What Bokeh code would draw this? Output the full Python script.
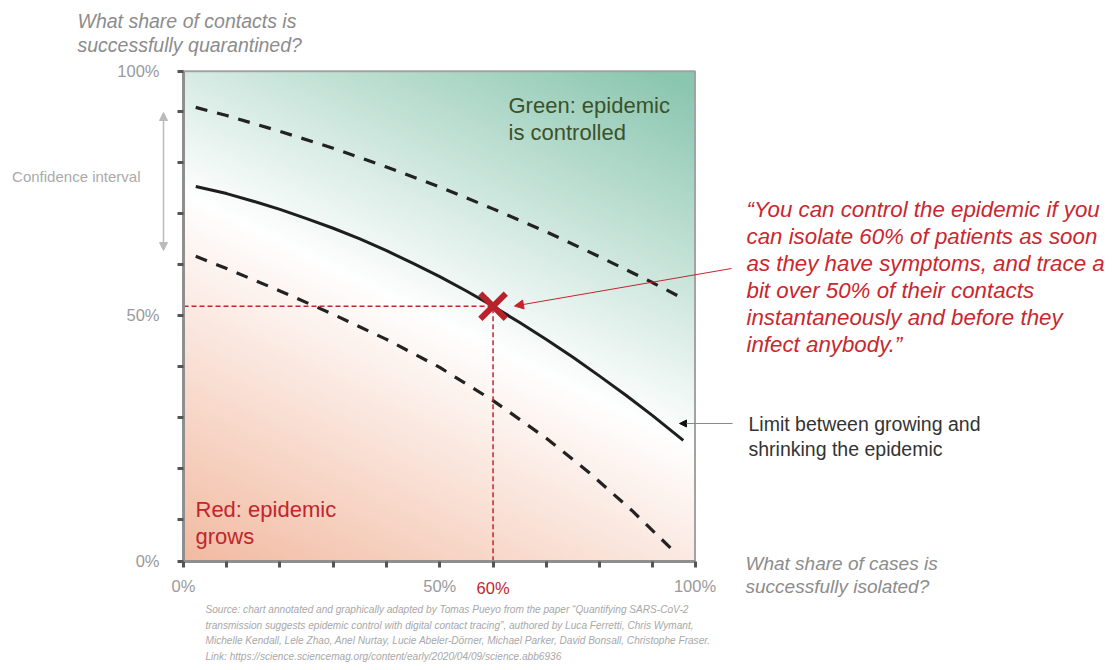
import numpy as np
from bokeh.plotting import figure
from bokeh.models import Range1d, FixedTicker, Label, Arrow, NormalHead
from bokeh.embed import file_html
from bokeh.resources import INLINE

# ---------------- data (percent) ----------------
upper_x = [4.2, 10, 20, 30, 40, 50, 60, 70, 80, 90, 95.7]
upper_y = [90.8, 89.2, 86.1, 82.8, 79.1, 75.2, 70.9, 66.4, 61.5, 56.4, 53.3]
limit_x = [4.2, 10, 15, 20, 25, 30, 35, 40, 45, 50, 55, 60, 65, 70, 75, 80, 85, 90, 95.7]
limit_y = [75.3, 73.9, 72.4, 70.8, 69.0, 67.1, 65.0, 62.7, 60.2, 57.6, 54.8, 51.8,
           48.6, 45.3, 41.8, 38.1, 34.3, 30.3, 25.5]
lower_x = [4.2, 10, 20, 27, 30, 40, 50, 60, 70, 78, 86, 93.4]
lower_y = [61.6, 59.2, 54.8, 51.6, 50.2, 45.3, 39.8, 33.3, 25.9, 19.2, 11.8, 4.3]
point_x = [60]
point_y = [51.8]

x_lo, x_hi = 1.9, 97.9
y_lo, y_hi = 1.8, 97.9
inner_ticks = [10, 20, 30, 40, 50, 60, 70, 80, 90]
x_tick_labels = {x_lo: "0%", 50: "50%", x_hi: "100%"}
y_tick_labels = {y_lo: "0%", 50: "50%", y_hi: "100%"}
highlight_label = "60%"

FONT = "Liberation Sans"
RED = "#c3262c"

# ---------------- layout (canvas pixels of the chart box) ----------------
W, H = 1104, 664
C_LEFT, C_RIGHT, C_TOP, C_BOTTOM = 183.0, 694.5, 70.7, 560.7
sx = (x_hi - x_lo) / (C_RIGHT - C_LEFT)
sy = (y_hi - y_lo) / (C_BOTTOM - C_TOP)


def px(cx):
    return x_lo + (cx - C_LEFT) * sx


def py(cy):
    return y_hi - (cy - C_TOP) * sy


p = figure(width=W, height=H, min_border=0,
           min_border_left=0, min_border_right=0, min_border_top=0, min_border_bottom=0,
           x_range=Range1d(px(0), px(W)), y_range=Range1d(py(H), py(0)),
           output_backend="svg", toolbar_location=None)
p.xgrid.visible = False
p.ygrid.visible = False
p.background_fill_color = "white"
p.border_fill_color = "white"
p.outline_line_color = None

# ---------------- background gradient ----------------
n = 200
gx, gy = np.meshgrid(np.linspace(0, 1, n), np.linspace(0, 1, n))
d = 0.52 * gx + 1.0 * gy - 0.75
tg = np.clip(d / 0.74, 0, 1)
tr = np.clip(-d / 0.78, 0, 1)
white = np.array([255, 255, 255], float)
green = np.array([138, 198, 176], float)
peach = np.array([242, 184, 158], float)
rgb = (white[None, None, :]
       + tg[..., None] * (green - white)[None, None, :]
       + tr[..., None] * (peach - white)[None, None, :])
img = np.empty((n, n), dtype=np.uint32)
view = img.view(dtype=np.uint8).reshape((n, n, 4))
view[..., 0] = rgb[..., 0].astype(np.uint8)
view[..., 1] = rgb[..., 1].astype(np.uint8)
view[..., 2] = rgb[..., 2].astype(np.uint8)
view[..., 3] = 255
p.image_rgba(image=[img], x=x_lo, y=y_lo, dw=x_hi - x_lo, dh=y_hi - y_lo)
p.quad(left=[x_lo], right=[x_hi], bottom=[y_lo], top=[y_hi], fill_color=None,
       line_color="#a3a3a3", line_width=2)

# ---------------- axes (fixed onto the chart box) ----------------
p.xaxis.fixed_location = y_lo
p.yaxis.fixed_location = x_lo
p.xaxis.bounds = (x_lo, x_hi)
p.yaxis.bounds = (y_lo, y_hi)
for ax, ticks, labels in ((p.xaxis[0], [x_lo] + inner_ticks + [x_hi], x_tick_labels),
                          (p.yaxis[0], [y_lo] + inner_ticks + [y_hi], y_tick_labels)):
    ax.ticker = FixedTicker(ticks=ticks, minor_ticks=[])
    ax.major_label_overrides = {t: labels.get(t, "") for t in ticks}
    ax.axis_line_color = "#8f8f8f"
    ax.axis_line_width = 3
    ax.major_tick_line_color = "#555555"
    ax.major_tick_line_width = 3
    ax.major_tick_out = 6
    ax.major_tick_in = 0
    ax.minor_tick_line_color = None
    ax.major_label_text_font = FONT
    ax.major_label_text_font_size = "16.5px"
    ax.major_label_text_color = "#9a9a9a"
p.xaxis.major_label_standoff = 10
p.yaxis.major_label_standoff = 18

# ---------------- curves ----------------
p.line(upper_x, upper_y, line_color="#222222", line_width=3.2, line_dash="12 10")
p.line(lower_x, lower_y, line_color="#222222", line_width=3.2, line_dash="12 10")
p.line(limit_x, limit_y, line_color="#1e1e1e", line_width=3, line_join="round")

# guides to the highlighted point
p.line([x_lo, point_x[0]], [point_y[0], point_y[0]], line_color=RED, line_width=1.5, line_dash="5 3")
p.line([point_x[0], point_x[0]], [y_lo, point_y[0]], line_color=RED, line_width=1.5, line_dash="5 3")
p.scatter(point_x, point_y, marker="x", size=36, line_color="#b8222a", line_width=6)


# ---------------- annotations ----------------
def lab(text, cx, cy, size, color, style="normal", align="left"):
    p.add_layout(Label(x=px(cx), y=py(cy), text=text, text_font=FONT, text_font_size=size,
                       text_color=color, text_font_style=style, text_align=align,
                       text_baseline="middle"))


# y title
lab("What share of contacts is", 77, 20.5, "19.5px", "#8c8c8c", "italic")
lab("successfully quarantined?", 77, 44, "19.5px", "#8c8c8c", "italic")
# x title
lab("What share of cases is", 745, 563, "19px", "#8c8c8c", "italic")
lab("successfully isolated?", 745, 586, "19px", "#8c8c8c", "italic")
# 60% tick label in red
p.add_layout(Label(x=point_x[0], y=py(587), text=highlight_label, text_font=FONT,
                   text_font_size="16.5px", text_color=RED, text_align="center",
                   text_baseline="middle"))
# confidence interval
lab("Confidence interval", 140, 176, "15px", "#aaaaaa", align="right")
p.add_layout(Arrow(start=NormalHead(size=8, fill_color="#bbbbbb", line_color="#bbbbbb"),
                   end=NormalHead(size=8, fill_color="#bbbbbb", line_color="#bbbbbb"),
                   x_start=px(163), y_start=py(250), x_end=px(163), y_end=py(112),
                   line_color="#bbbbbb", line_width=1.5))
# region labels
lab("Green: epidemic", 508, 105, "22px", "#3b5228")
lab("is controlled", 508, 132, "22px", "#3b5228")
lab("Red: epidemic", 195, 509, "22px", "#c0262c")
lab("grows", 195, 535.5, "22px", "#c0262c")

# quote
quote = ["\u201cYou can control the epidemic if you",
         "can isolate 60% of patients as soon",
         "as they have symptoms, and trace a",
         "bit over 50% of their contacts",
         "instantaneously and before they",
         "infect anybody.\u201d"]
for i, line in enumerate(quote):
    lab(line, 746, 209 + 26.9 * i, "22.3px", "#c8282e", "italic")
p.add_layout(Arrow(end=NormalHead(size=9, fill_color=RED, line_color=RED),
                   x_start=px(731), y_start=py(268), x_end=px(514), y_end=py(305.5),
                   line_color=RED, line_width=1))

# limit label
lab("Limit between growing and", 748, 423, "19.5px", "#333333")
lab("shrinking the epidemic", 748, 448, "19.5px", "#333333")
p.add_layout(Arrow(end=NormalHead(size=7, fill_color="#111111", line_color="#111111"),
                   x_start=px(732), y_start=py(423), x_end=px(679), y_end=py(423),
                   line_color="#888888", line_width=1))

# source
source = ["Source: chart annotated and graphically adapted by Tomas Pueyo from the paper \u201cQuantifying SARS-CoV-2",
          "transmission suggests epidemic control with digital contact tracing\u201d, authored by Luca Ferretti, Chris Wymant,",
          "Michelle Kendall, Lele Zhao, Anel Nurtay, Lucie Abeler-D\u00f6rner, Michael Parker, David Bonsall, Christophe Fraser.",
          "Link: https://science.sciencemag.org/content/early/2020/04/09/science.abb6936"]
for i, line in enumerate(source):
    lab(line, 205, 609 + 15.6 * i, "10.1px", "#a8a8a8", "italic")

open("out.html", "w").write(file_html(p, INLINE))
